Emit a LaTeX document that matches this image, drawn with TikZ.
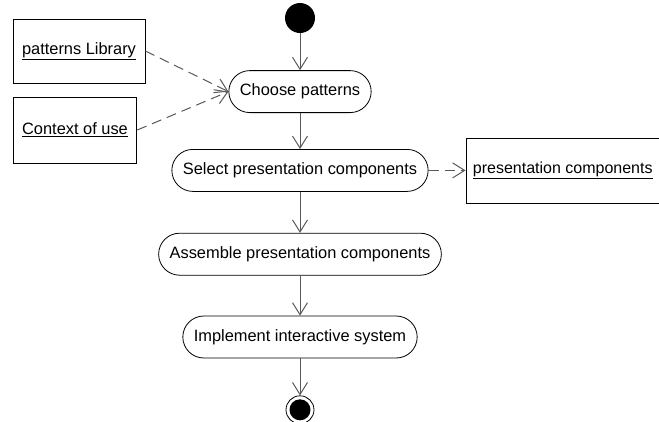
\documentclass[tikz,border=0pt]{standalone}
\usepackage{fontspec}
\setmainfont{Liberation Sans}
\usetikzlibrary{positioning, arrows.meta}
\tikzstyle{activity} 	= [rectangle, rounded corners=21pt, minimum height=42pt, inner xsep=11pt, text centered, draw=black, line width=0.8pt]
\tikzstyle{object}   	= [rectangle, minimum height=65pt, inner xsep=9pt, text centered, draw=black, line width=0.8pt]
\tikzstyle{flow} 		= [line width=1pt, black!65, -{Straight Barb[length=12pt,width=15pt]}]
\tikzstyle{dep} 		= [flow, dash pattern=on 10pt off 6pt]

\begin{document}
\begin{tikzpicture}[x=1pt, y=-1pt, node distance=39pt, font=\fontsize{16.4}{19}\selectfont]
				\clip (0,0) rectangle (659,421);
				\node (start) [circle, fill=black, minimum size=30pt, inner sep=0pt] at (300,18) {};
				\node (choose) [activity, below=37pt of start] {Choose patterns};
				\node (select) [activity, below=36pt of choose] {Select presentation components};
				\node (assemble) [activity, below=41pt of select] {Assemble presentation components};
				\node (implement) [activity, below=40pt of assemble] {Implement interactive system};
				\node (stop) [circle, draw=black, line width=0.8pt, minimum size=28pt, inner sep=0pt, below=37pt of implement] {};
				\node (stopdot) [circle, fill=black, minimum size=21pt, inner sep=0pt] at (stop) {};

				\node (library) [object, minimum height=64pt] at (79,51) {\underline{patterns Library}};
				\node (context) [object, minimum height=66pt] at (75,130) {\underline{Context of use}};
				\node (components) [object, right=37pt of select, inner xsep=7pt, font=\fontsize{16}{19}\selectfont] {\underline{presentation components}};

				\draw [flow] (start) -- (choose);
				\draw [flow] (choose) -- (select);
				\draw [flow] (select) -- (assemble);
				\draw [flow] (assemble) -- (implement);
				\draw [flow] (implement) -- (stop);
				\draw [dep] (library.east) -- (choose.west);
				\draw [dep] (context.east) -- (choose.west);
				\draw [dep] (select) -- (components);
			\end{tikzpicture}
\end{document}
